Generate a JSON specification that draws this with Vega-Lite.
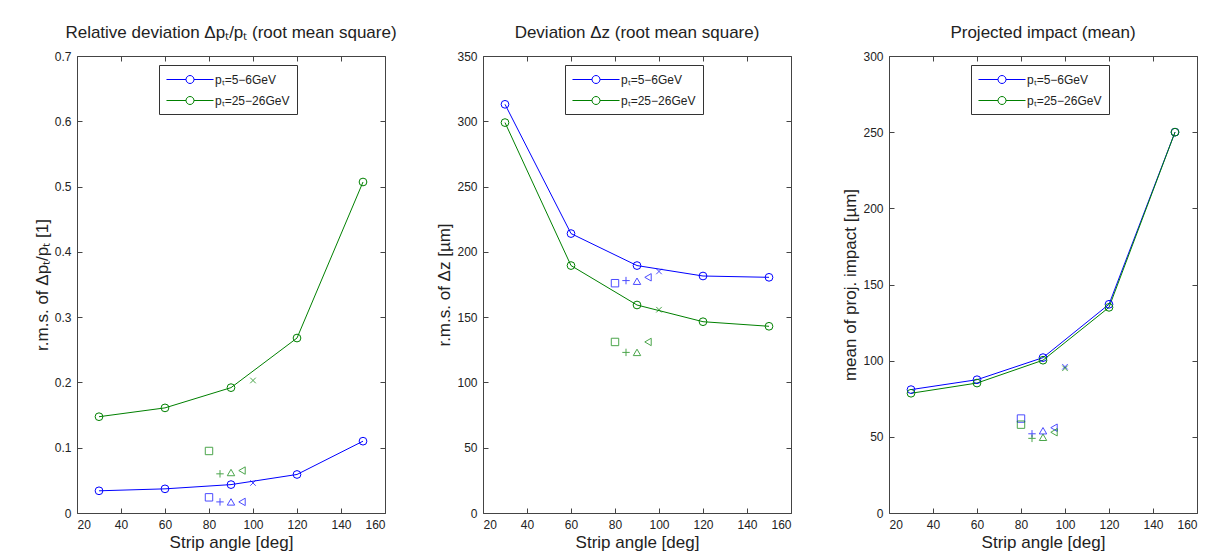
{
  "$schema": "https://vega.github.io/schema/vega-lite/v6.json",
  "background": "white",
  "padding": {"left": 32, "top": 23, "right": 10, "bottom": 5},
  "config": {
    "font": "Liberation Sans",
    "view": {"stroke": "#444", "strokeWidth": 1},
    "axis": {"grid": false, "domain": false, "tickColor": "#444", "tickSize": -5, "tickWidth": 1, "labelFontSize": 12, "labelColor": "#222", "labelPadding": 11, "titleFontSize": 17, "titleFontWeight": "normal", "titleColor": "#222"},
    "axisX": {"titlePadding": 4},
    "axisY": {"titlePadding": 3},
    "title": {"fontSize": 17, "fontWeight": "normal", "color": "#222", "frame": "group", "offset": 8}
  },
  "datasets": {
    "lines": [
      {"panel": 1, "series": "pₜ=5−6GeV", "angle": 30, "value": 0.034},
      {"panel": 1, "series": "pₜ=5−6GeV", "angle": 60, "value": 0.037},
      {"panel": 1, "series": "pₜ=5−6GeV", "angle": 90, "value": 0.0435},
      {"panel": 1, "series": "pₜ=5−6GeV", "angle": 120, "value": 0.059},
      {"panel": 1, "series": "pₜ=5−6GeV", "angle": 150, "value": 0.110},
      {"panel": 1, "series": "pₜ=25−26GeV", "angle": 30, "value": 0.1475},
      {"panel": 1, "series": "pₜ=25−26GeV", "angle": 60, "value": 0.161},
      {"panel": 1, "series": "pₜ=25−26GeV", "angle": 90, "value": 0.192},
      {"panel": 1, "series": "pₜ=25−26GeV", "angle": 120, "value": 0.268},
      {"panel": 1, "series": "pₜ=25−26GeV", "angle": 150, "value": 0.507},
      {"panel": 2, "series": "pₜ=5−6GeV", "angle": 30, "value": 313},
      {"panel": 2, "series": "pₜ=5−6GeV", "angle": 60, "value": 214},
      {"panel": 2, "series": "pₜ=5−6GeV", "angle": 90, "value": 189.5},
      {"panel": 2, "series": "pₜ=5−6GeV", "angle": 120, "value": 181.5},
      {"panel": 2, "series": "pₜ=5−6GeV", "angle": 150, "value": 180.5},
      {"panel": 2, "series": "pₜ=25−26GeV", "angle": 30, "value": 299},
      {"panel": 2, "series": "pₜ=25−26GeV", "angle": 60, "value": 189.5},
      {"panel": 2, "series": "pₜ=25−26GeV", "angle": 90, "value": 159.3},
      {"panel": 2, "series": "pₜ=25−26GeV", "angle": 120, "value": 146.5},
      {"panel": 2, "series": "pₜ=25−26GeV", "angle": 150, "value": 143},
      {"panel": 3, "series": "pₜ=5−6GeV", "angle": 30, "value": 81},
      {"panel": 3, "series": "pₜ=5−6GeV", "angle": 60, "value": 87.5},
      {"panel": 3, "series": "pₜ=5−6GeV", "angle": 90, "value": 102},
      {"panel": 3, "series": "pₜ=5−6GeV", "angle": 120, "value": 137},
      {"panel": 3, "series": "pₜ=5−6GeV", "angle": 150, "value": 250},
      {"panel": 3, "series": "pₜ=25−26GeV", "angle": 30, "value": 78.6},
      {"panel": 3, "series": "pₜ=25−26GeV", "angle": 60, "value": 85.3},
      {"panel": 3, "series": "pₜ=25−26GeV", "angle": 90, "value": 100.3},
      {"panel": 3, "series": "pₜ=25−26GeV", "angle": 120, "value": 135},
      {"panel": 3, "series": "pₜ=25−26GeV", "angle": 150, "value": 250}
    ],
    "extra": [
      {"panel": 1, "series": "pₜ=5−6GeV", "marker": "square", "angle": 80, "value": 0.024},
      {"panel": 1, "series": "pₜ=5−6GeV", "marker": "plus", "angle": 85, "value": 0.017},
      {"panel": 1, "series": "pₜ=5−6GeV", "marker": "triangle", "angle": 90, "value": 0.017},
      {"panel": 1, "series": "pₜ=5−6GeV", "marker": "triangle-left", "angle": 95, "value": 0.017},
      {"panel": 1, "series": "pₜ=5−6GeV", "marker": "cross", "angle": 100, "value": 0.046},
      {"panel": 1, "series": "pₜ=25−26GeV", "marker": "square", "angle": 80, "value": 0.095},
      {"panel": 1, "series": "pₜ=25−26GeV", "marker": "plus", "angle": 85, "value": 0.060},
      {"panel": 1, "series": "pₜ=25−26GeV", "marker": "triangle", "angle": 90, "value": 0.062},
      {"panel": 1, "series": "pₜ=25−26GeV", "marker": "triangle-left", "angle": 95, "value": 0.065},
      {"panel": 1, "series": "pₜ=25−26GeV", "marker": "cross", "angle": 100, "value": 0.203},
      {"panel": 2, "series": "pₜ=5−6GeV", "marker": "square", "angle": 80, "value": 176},
      {"panel": 2, "series": "pₜ=5−6GeV", "marker": "plus", "angle": 85, "value": 178},
      {"panel": 2, "series": "pₜ=5−6GeV", "marker": "triangle", "angle": 90, "value": 177.5},
      {"panel": 2, "series": "pₜ=5−6GeV", "marker": "triangle-left", "angle": 95, "value": 180.5},
      {"panel": 2, "series": "pₜ=5−6GeV", "marker": "cross", "angle": 100, "value": 185},
      {"panel": 2, "series": "pₜ=25−26GeV", "marker": "square", "angle": 80, "value": 131},
      {"panel": 2, "series": "pₜ=25−26GeV", "marker": "plus", "angle": 85, "value": 123},
      {"panel": 2, "series": "pₜ=25−26GeV", "marker": "triangle", "angle": 90, "value": 123},
      {"panel": 2, "series": "pₜ=25−26GeV", "marker": "triangle-left", "angle": 95, "value": 131},
      {"panel": 2, "series": "pₜ=25−26GeV", "marker": "cross", "angle": 100, "value": 155.7},
      {"panel": 3, "series": "pₜ=5−6GeV", "marker": "square", "angle": 80, "value": 62},
      {"panel": 3, "series": "pₜ=5−6GeV", "marker": "plus", "angle": 85, "value": 52},
      {"panel": 3, "series": "pₜ=5−6GeV", "marker": "triangle", "angle": 90, "value": 54},
      {"panel": 3, "series": "pₜ=5−6GeV", "marker": "triangle-left", "angle": 95, "value": 56},
      {"panel": 3, "series": "pₜ=5−6GeV", "marker": "cross", "angle": 100, "value": 96},
      {"panel": 3, "series": "pₜ=25−26GeV", "marker": "square", "angle": 80, "value": 58},
      {"panel": 3, "series": "pₜ=25−26GeV", "marker": "plus", "angle": 85, "value": 49},
      {"panel": 3, "series": "pₜ=25−26GeV", "marker": "triangle", "angle": 90, "value": 49.7},
      {"panel": 3, "series": "pₜ=25−26GeV", "marker": "triangle-left", "angle": 95, "value": 53},
      {"panel": 3, "series": "pₜ=25−26GeV", "marker": "cross", "angle": 100, "value": 95}
    ]
  },
  "spacing": 98,
  "bounds": "flush",
  "resolve": {"scale": {"x": "independent", "y": "independent", "color": "independent", "shape": "independent"}},
  "hconcat": [
    {
      "width": 308, "height": 457,
      "title": {"text": "Relative deviation Δpₜ/pₜ (root mean square)"},
      "layer": [
        {
          "data": {"name": "lines"},
          "transform": [{"filter": "datum.panel === 1"}],
          "mark": {"type": "line", "strokeWidth": 1, "point": {"filled": false, "size": 60, "strokeWidth": 1}},
          "encoding": {
            "x": {"field": "angle", "type": "quantitative", "scale": {"domain": [20, 160], "nice": false, "zero": false}, "axis": {"values": [20, 40, 60, 80, 100, 120, 140, 160], "title": "Strip angle [deg]"}},
            "y": {"field": "value", "type": "quantitative", "scale": {"domain": [0, 0.7], "nice": false}, "axis": {"values": [0, 0.1, 0.2, 0.3, 0.4, 0.5, 0.6, 0.7], "format": ".1~f", "title": "r.m.s. of Δpₜ/pₜ [1]"}},
            "color": {"field": "series", "type": "nominal", "scale": {"domain": ["pₜ=5−6GeV", "pₜ=25−26GeV"], "range": ["#0000ff", "#008000"]},
              "legend": {"orient": "none", "legendX": 82, "legendY": 9, "title": null, "symbolType": "M-3.36,0H-0.57M0.57,0H3.36M0.57,0A0.57,0.57,0,1,1,-0.57,0A0.57,0.57,0,1,1,0.57,0", "symbolSize": 196, "symbolOffset": 16.5, "labelOffset": 17.5, "symbolStrokeWidth": 1, "symbolFillColor": "transparent", "labelFontSize": 12, "labelColor": "#222", "strokeColor": "#333", "fillColor": "white", "padding": 7, "rowPadding": 7, "direction": "vertical"}}
          }
        },
        {
          "data": {"name": "extra"},
          "transform": [{"filter": "datum.panel === 1"}],
          "mark": {"type": "point", "filled": false, "size": 55, "strokeWidth": 1},
          "encoding": {
            "x": {"field": "angle", "type": "quantitative", "axis": null},
            "y": {"field": "value", "type": "quantitative", "axis": null},
            "color": {"field": "series", "type": "nominal"},
            "shape": {"field": "marker", "type": "nominal", "legend": null, "scale": {"domain": ["square", "plus", "triangle", "triangle-left", "cross"], "range": ["square", "M-1,0H1M0,-1V1", "triangle-up", "triangle-left", "M-0.75,-0.75L0.75,0.75M-0.75,0.75L0.75,-0.75"]}}
          }
        },
        {
          "data": {"name": "lines"},
          "transform": [{"filter": "datum.panel === 1"}],
          "mark": {"type": "point", "opacity": 0},
          "encoding": {
            "x": {"field": "angle", "type": "quantitative", "axis": {"orient": "top", "labels": false, "title": null, "values": [20, 40, 60, 80, 100, 120, 140, 160]}},
            "y": {"field": "value", "type": "quantitative", "axis": {"orient": "right", "labels": false, "title": null, "values": [0, 0.1, 0.2, 0.3, 0.4, 0.5, 0.6, 0.7]}}
          }
        }
      ],
      "resolve": {"axis": {"x": "independent", "y": "independent"}}
    },
    {
      "width": 308, "height": 457,
      "title": {"text": "Deviation Δz (root mean square)"},
      "layer": [
        {
          "data": {"name": "lines"},
          "transform": [{"filter": "datum.panel === 2"}],
          "mark": {"type": "line", "strokeWidth": 1, "point": {"filled": false, "size": 60, "strokeWidth": 1}},
          "encoding": {
            "x": {"field": "angle", "type": "quantitative", "scale": {"domain": [20, 160], "nice": false, "zero": false}, "axis": {"values": [20, 40, 60, 80, 100, 120, 140, 160], "title": "Strip angle [deg]"}},
            "y": {"field": "value", "type": "quantitative", "scale": {"domain": [0, 350], "nice": false}, "axis": {"values": [0, 50, 100, 150, 200, 250, 300, 350], "title": "r.m.s. of Δz [µm]"}},
            "color": {"field": "series", "type": "nominal", "scale": {"domain": ["pₜ=5−6GeV", "pₜ=25−26GeV"], "range": ["#0000ff", "#008000"]},
              "legend": {"orient": "none", "legendX": 82, "legendY": 9, "title": null, "symbolType": "M-3.36,0H-0.57M0.57,0H3.36M0.57,0A0.57,0.57,0,1,1,-0.57,0A0.57,0.57,0,1,1,0.57,0", "symbolSize": 196, "symbolOffset": 16.5, "labelOffset": 17.5, "symbolStrokeWidth": 1, "symbolFillColor": "transparent", "labelFontSize": 12, "labelColor": "#222", "strokeColor": "#333", "fillColor": "white", "padding": 7, "rowPadding": 7, "direction": "vertical"}}
          }
        },
        {
          "data": {"name": "extra"},
          "transform": [{"filter": "datum.panel === 2"}],
          "mark": {"type": "point", "filled": false, "size": 55, "strokeWidth": 1},
          "encoding": {
            "x": {"field": "angle", "type": "quantitative", "axis": null},
            "y": {"field": "value", "type": "quantitative", "axis": null},
            "color": {"field": "series", "type": "nominal"},
            "shape": {"field": "marker", "type": "nominal", "legend": null, "scale": {"domain": ["square", "plus", "triangle", "triangle-left", "cross"], "range": ["square", "M-1,0H1M0,-1V1", "triangle-up", "triangle-left", "M-0.75,-0.75L0.75,0.75M-0.75,0.75L0.75,-0.75"]}}
          }
        },
        {
          "data": {"name": "lines"},
          "transform": [{"filter": "datum.panel === 2"}],
          "mark": {"type": "point", "opacity": 0},
          "encoding": {
            "x": {"field": "angle", "type": "quantitative", "axis": {"orient": "top", "labels": false, "title": null, "values": [20, 40, 60, 80, 100, 120, 140, 160]}},
            "y": {"field": "value", "type": "quantitative", "axis": {"orient": "right", "labels": false, "title": null, "values": [0, 50, 100, 150, 200, 250, 300, 350]}}
          }
        }
      ],
      "resolve": {"axis": {"x": "independent", "y": "independent"}}
    },
    {
      "width": 308, "height": 457,
      "title": {"text": "Projected impact (mean)"},
      "layer": [
        {
          "data": {"name": "lines"},
          "transform": [{"filter": "datum.panel === 3"}],
          "mark": {"type": "line", "strokeWidth": 1, "point": {"filled": false, "size": 60, "strokeWidth": 1}},
          "encoding": {
            "x": {"field": "angle", "type": "quantitative", "scale": {"domain": [20, 160], "nice": false, "zero": false}, "axis": {"values": [20, 40, 60, 80, 100, 120, 140, 160], "title": "Strip angle [deg]"}},
            "y": {"field": "value", "type": "quantitative", "scale": {"domain": [0, 300], "nice": false}, "axis": {"values": [0, 50, 100, 150, 200, 250, 300], "title": "mean of proj. impact [µm]"}},
            "color": {"field": "series", "type": "nominal", "scale": {"domain": ["pₜ=5−6GeV", "pₜ=25−26GeV"], "range": ["#0000ff", "#008000"]},
              "legend": {"orient": "none", "legendX": 82, "legendY": 9, "title": null, "symbolType": "M-3.36,0H-0.57M0.57,0H3.36M0.57,0A0.57,0.57,0,1,1,-0.57,0A0.57,0.57,0,1,1,0.57,0", "symbolSize": 196, "symbolOffset": 16.5, "labelOffset": 17.5, "symbolStrokeWidth": 1, "symbolFillColor": "transparent", "labelFontSize": 12, "labelColor": "#222", "strokeColor": "#333", "fillColor": "white", "padding": 7, "rowPadding": 7, "direction": "vertical"}}
          }
        },
        {
          "data": {"name": "extra"},
          "transform": [{"filter": "datum.panel === 3"}],
          "mark": {"type": "point", "filled": false, "size": 55, "strokeWidth": 1},
          "encoding": {
            "x": {"field": "angle", "type": "quantitative", "axis": null},
            "y": {"field": "value", "type": "quantitative", "axis": null},
            "color": {"field": "series", "type": "nominal"},
            "shape": {"field": "marker", "type": "nominal", "legend": null, "scale": {"domain": ["square", "plus", "triangle", "triangle-left", "cross"], "range": ["square", "M-1,0H1M0,-1V1", "triangle-up", "triangle-left", "M-0.75,-0.75L0.75,0.75M-0.75,0.75L0.75,-0.75"]}}
          }
        },
        {
          "data": {"name": "lines"},
          "transform": [{"filter": "datum.panel === 3"}],
          "mark": {"type": "point", "opacity": 0},
          "encoding": {
            "x": {"field": "angle", "type": "quantitative", "axis": {"orient": "top", "labels": false, "title": null, "values": [20, 40, 60, 80, 100, 120, 140, 160]}},
            "y": {"field": "value", "type": "quantitative", "axis": {"orient": "right", "labels": false, "title": null, "values": [0, 50, 100, 150, 200, 250, 300]}}
          }
        }
      ],
      "resolve": {"axis": {"x": "independent", "y": "independent"}}
    }
  ]
}
